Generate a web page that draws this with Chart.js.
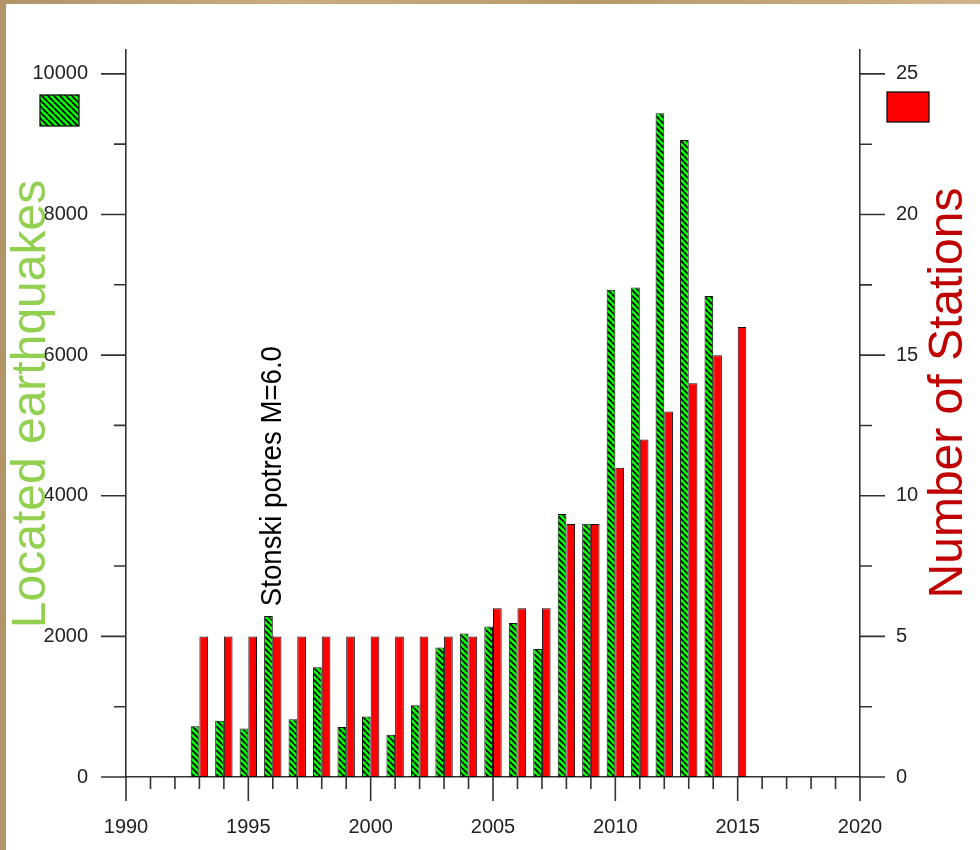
<!DOCTYPE html>
<html><head><meta charset="utf-8">
<script src="https://cdn.jsdelivr.net/npm/chart.js@4/dist/chart.umd.min.js"></script>
<style>
html,body{margin:0;padding:0;width:980px;height:850px;overflow:hidden;
  background:linear-gradient(90deg,#b39466 0%,#c9ae80 30%,#b8996a 60%,#cdb487 100%);}
#panel{position:absolute;left:6px;top:4px;width:974px;height:846px;background:#ffffff;}
#wrap{position:absolute;left:0;top:0;width:980px;height:850px;}
</style></head><body>
<div id="panel"></div>
<div id="wrap"><canvas id="c" width="980" height="850"></canvas></div>
<script>
// ---- data ----
const years = [1993,1994,1995,1996,1997,1998,1999,2000,2001,2002,2003,2004,2005,2006,2007,2008,2009,2010,2011,2012,2013,2014,2015];
const earthquakes = [720,800,690,2290,820,1560,710,860,600,1020,1840,2040,2140,2190,1820,3740,3600,6930,6960,9440,9060,6840,null];
const stations = [5,5,5,5,5,5,5,5,5,5,5,5,6,6,6,9,9,11,12,13,14,15,16];
const xTickLabels = ['1990','1995','2000','2005','2010','2015','2020'];
const leftTickLabels = ['0','2000','4000','6000','8000','10000'];
const rightTickLabels = ['0','5','10','15','20','25'];
const leftTitle = 'Located earthquakes';
const rightTitle = 'Number of Stations';
const eventLabel = 'Stonski potres M=6.0';
const eventYear = 1996;

const FONT = '"Liberation Sans", Arial, sans-serif';
const ctx = document.getElementById('c').getContext('2d');

function hatchPattern(){
  const c = document.createElement('canvas'); c.width = 6; c.height = 6;
  const g = c.getContext('2d');
  g.fillStyle = '#00ff00'; g.fillRect(0,0,6,6);
  g.strokeStyle = '#000'; g.lineWidth = 1.7;
  g.beginPath();
  for (let k=-6;k<=6;k+=6){ g.moveTo(k,0); g.lineTo(k+6,6); }
  g.stroke();
  return ctx.createPattern(c,'repeat');
}
const hatch = hatchPattern();

function stepTicks(from, to, step){
  const out = [];
  for (let i = 0; from + i*step <= to + 1e-9; i++) out.push({value: from + i*step});
  return out;
}

const tickPlugin = {
  id:'tickMarks',
  afterDraw(chart){
    const c = chart.ctx; const {x, y, y2} = chart.scales;
    c.save(); c.strokeStyle = '#333'; c.lineWidth = 1.6; c.beginPath();
    x.ticks.forEach(t=>{
      const px = x.getPixelForValue(t.value);
      const len = (t.value % 5 === 0) ? 24 : 12;
      c.moveTo(px, x.top); c.lineTo(px, x.top + len);
    });
    y.ticks.forEach(t=>{
      const py = y.getPixelForValue(t.value);
      const len = (t.value % 2000 === 0) ? 25 : 12;
      c.moveTo(y.right, py); c.lineTo(y.right - len, py);
    });
    y2.ticks.forEach(t=>{
      const py = y2.getPixelForValue(t.value);
      const len = (Math.abs(t.value % 5) < 1e-6) ? 25 : 12;
      c.moveTo(y2.left, py); c.lineTo(y2.left + len, py);
    });
    c.stroke();

    // legend boxes
    c.lineWidth = 1.3; c.strokeStyle = '#111';
    c.fillStyle = hatch; c.fillRect(40,95,39,31); c.strokeRect(40,95,39,31);
    c.fillStyle = '#ff0000'; c.fillRect(887,92,42,30); c.strokeRect(887,92,42,30);

    // axis titles
    c.font = '48px ' + FONT; c.textAlign = 'center'; c.textBaseline = 'alphabetic';
    c.save(); c.translate(45, 404); c.rotate(-Math.PI/2);
    c.fillStyle = '#92d050'; c.fillText(leftTitle, 0, 0); c.restore();
    c.save(); c.translate(962, 393); c.rotate(-Math.PI/2);
    c.fillStyle = '#c00000'; c.fillText(rightTitle, 0, 0); c.restore();

    // event annotation
    const ex = x.getPixelForValue(eventYear) + 8.5;
    const ey = y.getPixelForValue(2430);
    c.save(); c.translate(ex, ey); c.rotate(-Math.PI/2); c.scale(0.92, 1);
    c.font = '30px ' + FONT; c.textAlign = 'left'; c.fillStyle = '#000';
    c.fillText(eventLabel, 0, 0); c.restore();
    c.restore();
  }
};

const tickFont = {family: FONT, size: 20};
new Chart(ctx, {
  type:'bar',
  data:{
    datasets:[
      {label: leftTitle, data: years.map((yr,i)=>({x:yr, y:earthquakes[i]})), yAxisID:'y',
       backgroundColor: hatch, borderColor:'#111', borderWidth:1, borderSkipped:false,
       categoryPercentage:0.71, barPercentage:1},
      {label: rightTitle, data: years.map((yr,i)=>({x:yr, y:stations[i]})), yAxisID:'y2',
       backgroundColor:'#ff0000', borderColor:'#111', borderWidth:1, borderSkipped:false,
       categoryPercentage:0.71, barPercentage:1}
    ]
  },
  options:{
    responsive:false, animation:false, devicePixelRatio:1,
    layout:{padding:{top:46,left:0,right:0,bottom:0}},
    plugins:{legend:{display:false}, tooltip:{enabled:false}},
    scales:{
      x:{type:'linear', position:'bottom', min:1990, max:2020, offset:false,
         grid:{display:false, drawTicks:false}, border:{display:true, color:'#333', width:1.6},
         ticks:{stepSize:1, autoSkip:false, maxRotation:0, padding:38, color:'#222', font:tickFont,
                callback:(v)=> xTickLabels.includes(String(v)) ? String(v) : ''},
         afterBuildTicks:(s)=>{ s.ticks = stepTicks(1990, 2020, 1); },
         afterFit:(s)=>{ s.height = 73; }},
      y:{type:'linear', position:'left', min:0, max:10339,
         grid:{display:false, drawTicks:false}, border:{display:true, color:'#333', width:1.6},
         ticks:{padding:38, color:'#222', font:tickFont,
                callback:(v)=> leftTickLabels.includes(String(v)) ? String(v) : ''},
         afterBuildTicks:(s)=>{ s.ticks = stepTicks(0, 10000, 1000); },
         afterFit:(s)=>{ s.width = 126; }},
      y2:{type:'linear', position:'right', min:0, max:25.85,
         grid:{display:false, drawTicks:false}, border:{display:true, color:'#333', width:1.6},
         ticks:{padding:36, color:'#222', font:tickFont,
                callback:(v)=> rightTickLabels.includes(String(v)) ? String(v) : ''},
         afterBuildTicks:(s)=>{ s.ticks = stepTicks(0, 25, 2.5); },
         afterFit:(s)=>{ s.width = 120; }}
    }
  },
  plugins:[tickPlugin]
});
</script>
</body></html>
